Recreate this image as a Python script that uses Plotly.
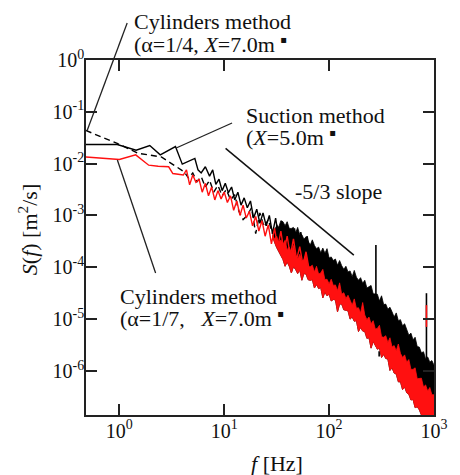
import numpy as np
import plotly.graph_objects as go

# ---- Spectra, stored as log10(f [Hz]) and log10(S [m^2/s]) ----
# Suction method (X=5.0 m), low-frequency part
suction_logf = [-0.32, -0.02, 0.16, 0.29, 0.39, 0.535, 0.60, 0.67, 0.72, 0.75, 0.78, 0.82,
                0.86, 0.89, 0.92, 0.95, 0.98, 1.01, 1.04, 1.07, 1.10, 1.13, 1.16, 1.19,
                1.22, 1.25, 1.28, 1.31, 1.34, 1.37, 1.40, 1.43, 1.46, 1.49, 1.52, 1.55,
                1.58, 1.61, 1.64, 1.67, 1.70, 1.73, 1.76, 1.79, 1.82]
suction_logs = [-1.63, -1.63, -1.74, -1.65, -1.83, -1.67, -2.01, -1.94, -1.90, -2.12, -2.18, -2.06,
                -2.24, -2.12, -2.40, -2.30, -2.52, -2.38, -2.56, -2.45, -2.70, -2.55, -2.80, -2.66,
                -2.85, -2.72, -3.05, -2.88, -3.15, -2.95, -3.20, -3.00, -3.35, -3.05, -3.45, -3.12,
                -3.50, -3.22, -3.55, -3.25, -3.62, -3.32, -3.66, -3.40, -3.70]

# Cylinders method (alpha=1/4, X=7.0 m), low-frequency part
cyl4_logf = [-0.32, -0.02, 0.18, 0.40, 0.62, 0.66, 0.70, 0.74, 0.78, 0.82, 0.86, 0.90, 0.94,
             0.98, 1.02, 1.06, 1.10, 1.14, 1.18, 1.22, 1.26, 1.30, 1.34, 1.38, 1.42, 1.46,
             1.50, 1.54, 1.58, 1.62, 1.66, 1.70, 1.74, 1.78]
cyl4_logs = [-1.36, -1.61, -1.80, -1.87, -2.16, -2.28, -2.18, -2.35, -2.25, -2.45, -2.32, -2.55, -2.42,
             -2.62, -2.50, -2.70, -2.60, -2.92, -3.08, -3.00, -2.85, -3.35, -2.95, -3.22, -3.08, -3.35,
             -3.18, -3.45, -3.28, -3.50, -3.32, -3.62, -3.42, -3.72]

# Cylinders method (alpha=1/7, X=7.0 m), low-frequency part
cyl7_logf = [-0.32, 0.00, 0.156, 0.28, 0.37, 0.47, 0.51, 0.61, 0.64, 0.67, 0.70, 0.73, 0.76,
             0.79, 0.82, 0.85, 0.88, 0.91, 0.94, 0.97, 1.00, 1.03, 1.06, 1.09, 1.12, 1.15,
             1.18, 1.21, 1.24, 1.27, 1.30, 1.33, 1.36, 1.39, 1.42, 1.45, 1.48, 1.51, 1.54,
             1.57, 1.60, 1.63, 1.66, 1.69, 1.72, 1.75, 1.78, 1.81]
cyl7_logs = [-1.87, -1.92, -1.83, -2.03, -2.05, -2.06, -2.19, -2.22, -2.12, -2.41, -2.22, -2.36, -2.30,
             -2.55, -2.38, -2.62, -2.45, -2.70, -2.52, -2.68, -2.55, -2.75, -2.62, -2.90, -2.72, -3.00,
             -2.80, -3.05, -2.92, -3.20, -3.02, -3.30, -3.10, -3.40, -3.18, -3.55, -3.25, -3.62, -3.30,
             -3.70, -3.40, -3.78, -3.45, -3.85, -3.60, -3.95, -3.70, -4.05]

# High-frequency part: edges of the dense spectra (10^1.46 .. 10^3 Hz)
band_logf = [1.46, 1.48, 1.50, 1.52, 1.54,
             1.56, 1.58, 1.60, 1.62, 1.64, 1.66, 1.68, 1.70, 1.72, 1.74, 1.76, 1.78, 1.80,
             1.82, 1.84, 1.86, 1.88, 1.90, 1.92, 1.94, 1.96, 1.98, 2.00, 2.02, 2.04, 2.06,
             2.08, 2.10, 2.12, 2.14, 2.16, 2.18, 2.20, 2.22, 2.24, 2.26, 2.28, 2.30, 2.32,
             2.34, 2.36, 2.38, 2.40, 2.42, 2.44, 2.46, 2.48, 2.50, 2.52, 2.54, 2.56, 2.58,
             2.60, 2.62, 2.64, 2.66, 2.68, 2.70, 2.72, 2.74, 2.76, 2.78, 2.80, 2.82, 2.84,
             2.86, 2.88, 2.90, 2.92, 2.94, 2.96, 2.98, 3.00]
# upper edge of the black (suction / alpha=1/4) spectra
black_upper = [-3.35, -3.28, -3.20, -3.22, -3.10,
               -3.12, -3.20, -3.12, -3.25, -3.25, -3.23, -3.34, -3.23, -3.37, -3.37, -3.46, -3.41, -3.50,
               -3.57, -3.47, -3.58, -3.64, -3.61, -3.72, -3.63, -3.73, -3.64, -3.82, -3.80, -3.87, -3.84,
               -3.96, -3.87, -3.97, -4.04, -3.98, -4.09, -4.07, -4.18, -4.06, -4.19, -4.25, -4.20, -4.31,
               -4.25, -4.40, -4.38, -4.35, -4.51, -4.52, -4.52, -4.65, -4.55, -4.72, -4.71, -4.81, -4.77,
               -4.86, -4.96, -4.88, -5.03, -5.01, -5.13, -5.09, -5.21, -5.31, -5.27, -5.40, -5.35, -5.53,
               -5.54, -5.65, -5.63, -5.77, -5.73, -5.83, -5.80, -5.89]
# upper and lower edges of the red (alpha=1/7) spectrum
red_upper = [-3.38, -3.45, -3.40, -3.52, -3.47,
             -3.56, -3.48, -3.66, -3.61, -3.72, -3.58, -3.77, -3.84, -3.75, -3.88, -3.86, -3.75, -3.99,
             -3.99, -3.96, -4.09, -3.98, -4.13, -4.11, -4.04, -4.24, -4.23, -4.32, -4.23, -4.35, -4.34,
             -4.45, -4.30, -4.52, -4.49, -4.60, -4.54, -4.64, -4.73, -4.61, -4.79, -4.78, -4.88, -4.68,
             -4.92, -5.01, -4.96, -5.09, -5.03, -5.19, -5.18, -5.12, -5.34, -5.35, -5.32, -5.45, -5.36,
             -5.54, -5.51, -5.61, -5.48, -5.66, -5.74, -5.69, -5.83, -5.78, -5.97, -5.97, -5.94, -6.15,
             -6.15, -6.14, -6.31, -6.27, -6.39, -6.32, -6.46, -6.46]
red_lower = [-3.40, -3.52, -3.62, -3.70, -3.78,
             -3.85, -3.98, -3.90, -3.98, -4.11, -3.99, -4.04, -4.12, -4.05, -4.25, -4.12, -4.13, -4.24,
             -4.25, -4.24, -4.40, -4.33, -4.41, -4.39, -4.59, -4.48, -4.55, -4.52, -4.65, -4.62, -4.63,
             -4.86, -4.71, -4.71, -4.82, -4.83, -4.84, -5.00, -4.96, -5.04, -5.03, -5.24, -5.16, -5.23,
             -5.24, -5.37, -5.36, -5.56, -5.43, -5.49, -5.58, -5.56, -5.74, -5.68, -5.76, -5.77, -5.99,
             -5.94, -6.04, -6.06, -6.21, -6.21, -6.36, -6.31, -6.42, -6.45, -6.56, -6.55, -6.71, -6.69,
             -6.75, -6.85, -6.90, -6.95, -6.95, -6.95, -6.95, -6.95]

# Narrow peaks standing out of the spectra
black_peak_logf = [2.446, 2.477, 2.928]
black_peak_top = [-3.57, -5.62, -4.50]
black_peak_bottom = [-4.62, -5.72, -5.82]
red_peak_logf = [2.928]
red_peak_top = [-4.73]
red_peak_bottom = [-5.15]

# -5/3 reference slope
slope_f = [10.3, 172.0]
slope_s = [0.0197, 1.72e-4]

# Axis ticks
x_tickvals = [1, 10, 100, 1000]
x_ticktext = ["10<sup>0</sup>", "10<sup>1</sup>", "10<sup>2</sup>", "10<sup>3</sup>"]
y_tickvals = [1, 1e-1, 1e-2, 1e-3, 1e-4, 1e-5, 1e-6]
y_ticktext = ["10<sup>0</sup>", "10<sup>-1</sup>", "10<sup>-2</sup>", "10<sup>-3</sup>",
              "10<sup>-4</sup>", "10<sup>-5</sup>", "10<sup>-6</sup>"]


def p10(a):
    return np.power(10.0, np.asarray(a, dtype=float))


def segments(xs, tops, bottoms):
    X, Y = [], []
    for x, t, b in zip(xs, tops, bottoms):
        X += [10 ** x, 10 ** x, None]
        Y += [10 ** t, 10 ** b, None]
    return X, Y


BLACK = "#000000"
RED = "#ff1010"

fig = go.Figure()

# black spectra
fig.add_trace(go.Scatter(x=p10(suction_logf), y=p10(suction_logs), mode="lines",
                         line=dict(color=BLACK, width=1.4)))
fig.add_trace(go.Scatter(x=p10(cyl4_logf), y=p10(cyl4_logs), mode="lines",
                         line=dict(color=BLACK, width=1.4, dash="6px,4px")))
band_x = list(p10(band_logf)) + list(p10(band_logf[::-1]))
fig.add_trace(go.Scatter(x=band_x, y=list(p10(black_upper)) + list(p10(red_lower[::-1])),
                         mode="lines", fill="toself", fillcolor=BLACK,
                         line=dict(color=BLACK, width=0.8)))
bx, by = segments(black_peak_logf, black_peak_top, black_peak_bottom)
fig.add_trace(go.Scatter(x=bx, y=by, mode="lines", line=dict(color=BLACK, width=1.6)))

# red spectrum
fig.add_trace(go.Scatter(x=p10(cyl7_logf), y=p10(cyl7_logs), mode="lines",
                         line=dict(color=RED, width=1.4)))
fig.add_trace(go.Scatter(x=band_x, y=list(p10(red_upper)) + list(p10(red_lower[::-1])),
                         mode="lines", fill="toself", fillcolor=RED,
                         line=dict(color=RED, width=0.8)))
rx, ry = segments(red_peak_logf, red_peak_top, red_peak_bottom)
fig.add_trace(go.Scatter(x=rx, y=ry, mode="lines", line=dict(color=RED, width=1.6)))

# -5/3 slope
fig.add_trace(go.Scatter(x=slope_f, y=slope_s, mode="lines", line=dict(color="#111111", width=1.5)))

SERIF = "Liberation Serif, Times New Roman, serif"
axis_common = dict(type="log", showline=True, linecolor="#222222", linewidth=1.6, mirror="ticks",
                   ticks="inside", ticklen=11, tickwidth=1.6, tickcolor="#222222",
                   showgrid=False, zeroline=False,
                   tickfont=dict(family=SERIF, size=20, color="#111111"))

fig.update_layout(
    width=460, height=475,
    margin=dict(l=86, r=19, t=60, b=60),
    paper_bgcolor="white", plot_bgcolor="white",
    showlegend=False,
    xaxis=dict(range=[-0.318, 3.0], tickvals=x_tickvals, ticktext=x_ticktext,
               ticklabelstandoff=-3, **axis_common),
    yaxis=dict(range=[-6.85, 0.0], tickvals=y_tickvals, ticktext=y_ticktext,
               ticklabelstandoff=-4, **axis_common),
)


def px_to_paper(px, py):
    return (px - 86) / 355.0, (415 - py) / 355.0


DOT = '<sup><span style="font-family:DejaVu Sans;font-size:10px">▪</span></sup>'
labels = [
    ("Cylinders method", 133, 22),
    ("(α=1/4, <i>X</i>=7.0m " + DOT, 133, 44),
    ("Suction method", 246.7, 115),
    ("(<i>X</i>=5.0m " + DOT, 246.7, 137),
    ("-5/3 slope", 296.7, 192),
    ("Cylinders method", 118.3, 296),
    ("(α=1/7,\u00a0\u00a0\u00a0<i>X</i>=7.0m " + DOT, 118.3, 318),
]
for text, px, py in labels:
    ax_, ay_ = px_to_paper(px, py)
    fig.add_annotation(text=text, x=ax_, y=ay_, xref="paper", yref="paper",
                       xanchor="left", yanchor="middle", showarrow=False,
                       font=dict(family=SERIF, size=22, color="#111111"))

# axis titles
tx, ty = px_to_paper(281, 463)
fig.add_annotation(text="<i>f</i> [Hz]", x=tx, y=ty, xref="paper", yref="paper",
                   xanchor="center", yanchor="middle", showarrow=False,
                   font=dict(family=SERIF, size=22, color="#111111"))
tx, ty = px_to_paper(27, 230)
fig.add_annotation(text="<i>S</i>(<i>f</i>) [m<sup>2</sup>/s]", x=tx, y=ty, xref="paper", yref="paper",
                   xanchor="center", yanchor="middle", showarrow=False, textangle=-90,
                   font=dict(family=SERIF, size=22, color="#111111"))

# leader lines from labels to curves
leaders = [((128, 23), (87, 131)), ((235, 123), (178, 148)), ((118, 160), (157, 273))]
for (x0, y0), (x1, y1) in leaders:
    a0, b0 = px_to_paper(x0, y0)
    a1, b1 = px_to_paper(x1, y1)
    fig.add_shape(type="line", xref="paper", yref="paper", x0=a0, y0=b0, x1=a1, y1=b1,
                  line=dict(color="#222222", width=1.3))

fig.write_html("out.html")
